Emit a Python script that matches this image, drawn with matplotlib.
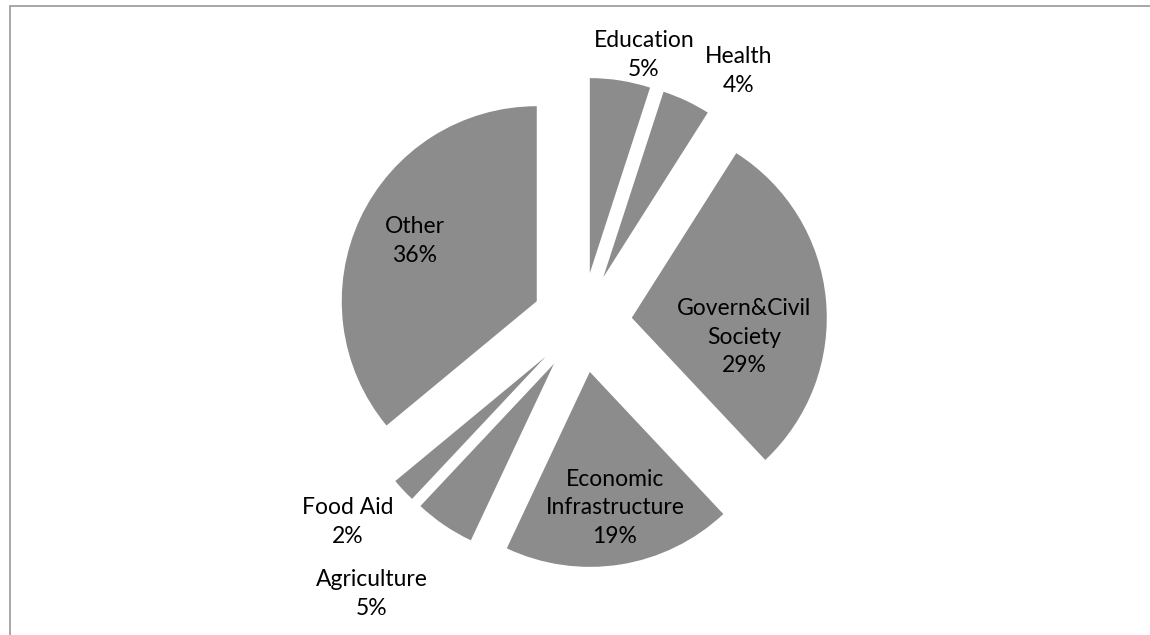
import matplotlib
matplotlib.use("Agg")
import matplotlib.pyplot as plt
from matplotlib.patches import Rectangle

# ---- data ----
categories = ["Education", "Health", "Govern&Civil\nSociety", "Economic\nInfrastructure",
              "Agriculture", "Food Aid", "Other"]
shares = [5, 4, 29, 19, 5, 2, 36]
pct_labels = ["5%", "4%", "29%", "19%", "5%", "2%", "36%"]

# ---- layout (image pixel coords, y downward) ----
W, H = 1150, 635
pie_center_img = (582, 322.5)
pie_radius = 195
explode_px = 50
label_pos_img = [(644, 55), (739, 71), (744, 337), (615, 508),
                 (372, 594), (348, 522), (415, 241)]

plt.rcParams['font.family'] = ['Lato', 'DejaVu Sans']
fig = plt.figure(figsize=(W / 100, H / 100), dpi=100)
ax = fig.add_axes([0, 0, 1, 1])

cx, cy = pie_center_img[0], H - pie_center_img[1]
ax.pie(shares, explode=[explode_px] * len(shares), startangle=90, counterclock=False,
       radius=pie_radius, center=(cx, cy), colors=["#8c8c8c"] * len(shares),
       wedgeprops=dict(linewidth=0), frame=False)

ax.set_xlim(0, W)
ax.set_ylim(0, H)
ax.set_aspect('equal')
ax.axis('off')

for name, pct, (x, y) in zip(categories, pct_labels, label_pos_img):
    ax.text(x, H - y, f"{name}\n{pct}", ha='center', va='center',
            multialignment='center', fontsize=16.5, color='black', linespacing=1.42)

# chart-area border (top and left visible)
fig.patches.append(Rectangle((9.5 / W, -0.1), 1.2, 1.1 - 6.5 / H, transform=fig.transFigure,
                             fill=False, edgecolor='#a0a0a0', linewidth=1.3))

fig.savefig("out.png", dpi=100)
